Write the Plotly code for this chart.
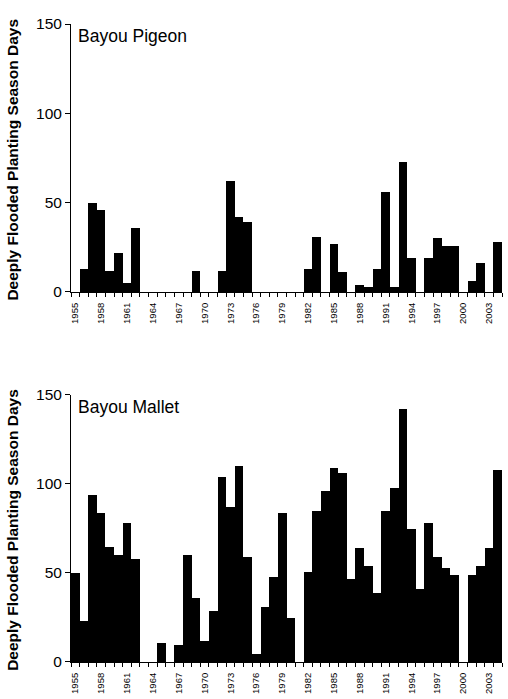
import plotly.graph_objects as go

years = list(range(1955, 2005))

pigeon = [0, 13, 50, 46, 12, 22, 5, 36, 0, 0,
          0, 0, 0, 0, 12, 0, 0, 12, 62, 42,
          39, 0, 0, 0, 0, 0, 0, 13, 31, 0,
          27, 11, 0, 4, 3, 13, 56, 3, 73, 19,
          0, 19, 30, 26, 26, 0, 6, 16, 0, 28]

mallet = [50, 23, 94, 84, 65, 60, 78, 58, 0, 0,
          11, 0, 10, 60, 36, 12, 29, 104, 87, 110,
          59, 5, 31, 48, 84, 25, 0, 51, 85, 96,
          109, 106, 47, 64, 54, 39, 85, 98, 142, 75,
          41, 78, 59, 53, 49, 0, 49, 54, 64, 108]

tick_years = list(range(1955, 2004, 3))
y_ticks = [0, 50, 100, 150]
titles = ["Bayou Pigeon", "Bayou Mallet"]
ytitle = "Deeply Flooded Planting Season Days"

FONT = "Arial, Liberation Sans, sans-serif"
W, H = 508, 699
ml, mr, mt, mb = 70.5, 5.5, 24, 31
plot_w = W - ml - mr
plot_h = H - mt - mb

def py(pix):
    return (H - mb - pix) / plot_h

top_dom = [py(294.5), 1.0]
bot_dom = [0.0, py(398)]

fig = go.Figure()
fig.add_trace(go.Bar(x=years, y=pigeon, marker=dict(color="black", line=dict(width=0)),
                     width=1, xaxis="x", yaxis="y", showlegend=False))
fig.add_trace(go.Bar(x=years, y=mallet, marker=dict(color="black", line=dict(width=0)),
                     width=1, xaxis="x2", yaxis="y2", showlegend=False))

xcommon = dict(range=[1954.5, 2004.5], tickvals=tick_years, ticktext=[str(t) for t in tick_years],
               tickangle=-90, ticks="outside", ticklen=6, tickcolor="rgba(0,0,0,0)",
               tickfont=dict(family=FONT, size=9.5, color="black"),
               showline=True, linecolor="black", linewidth=1, showgrid=False, zeroline=False,
               minor=dict(ticks="outside", tick0=1954.5, dtick=1, ticklen=4, tickcolor="black",
                          showgrid=False))
ycommon = dict(range=[0, 150], tickvals=y_ticks, ticks="outside", ticklen=5, tickcolor="black",
               tickfont=dict(family=FONT, size=15.5, color="black"),
               showline=True, linecolor="black", linewidth=1, showgrid=False, zeroline=False)

fig.update_layout(
    width=W, height=H, margin=dict(l=ml, r=mr, t=mt, b=mb),
    paper_bgcolor="white", plot_bgcolor="white", bargap=0,
    xaxis=dict(**xcommon, anchor="y"),
    yaxis=dict(**ycommon, domain=top_dom, anchor="x"),
    xaxis2=dict(**xcommon, anchor="y2"),
    yaxis2=dict(**ycommon, domain=bot_dom, anchor="x2"),
    font=dict(family=FONT, color="black"),
)

ann = []
for dom, title, xr, yr in [(top_dom, titles[0], "x domain", "y domain"),
                           (bot_dom, titles[1], "x2 domain", "y2 domain")]:
    ann.append(dict(text=title, xref=xr, yref=yr, x=(76 - ml) / plot_w, y=1.0,
                    xanchor="left", yanchor="top", showarrow=False,
                    font=dict(family=FONT, size=17.5, color="black")))
    ann.append(dict(text="<b>" + ytitle + "</b>", xref="paper", yref="paper",
                    x=(12 - ml) / plot_w, y=(dom[0] + dom[1]) / 2 - 2 / plot_h, textangle=-90,
                    xanchor="center", yanchor="middle", showarrow=False,
                    font=dict(family=FONT, size=15.5, color="black")))
fig.update_layout(annotations=ann)

fig.write_html("out.html", config={"displayModeBar": False},
               post_script="document.body.style.margin='0px';")
